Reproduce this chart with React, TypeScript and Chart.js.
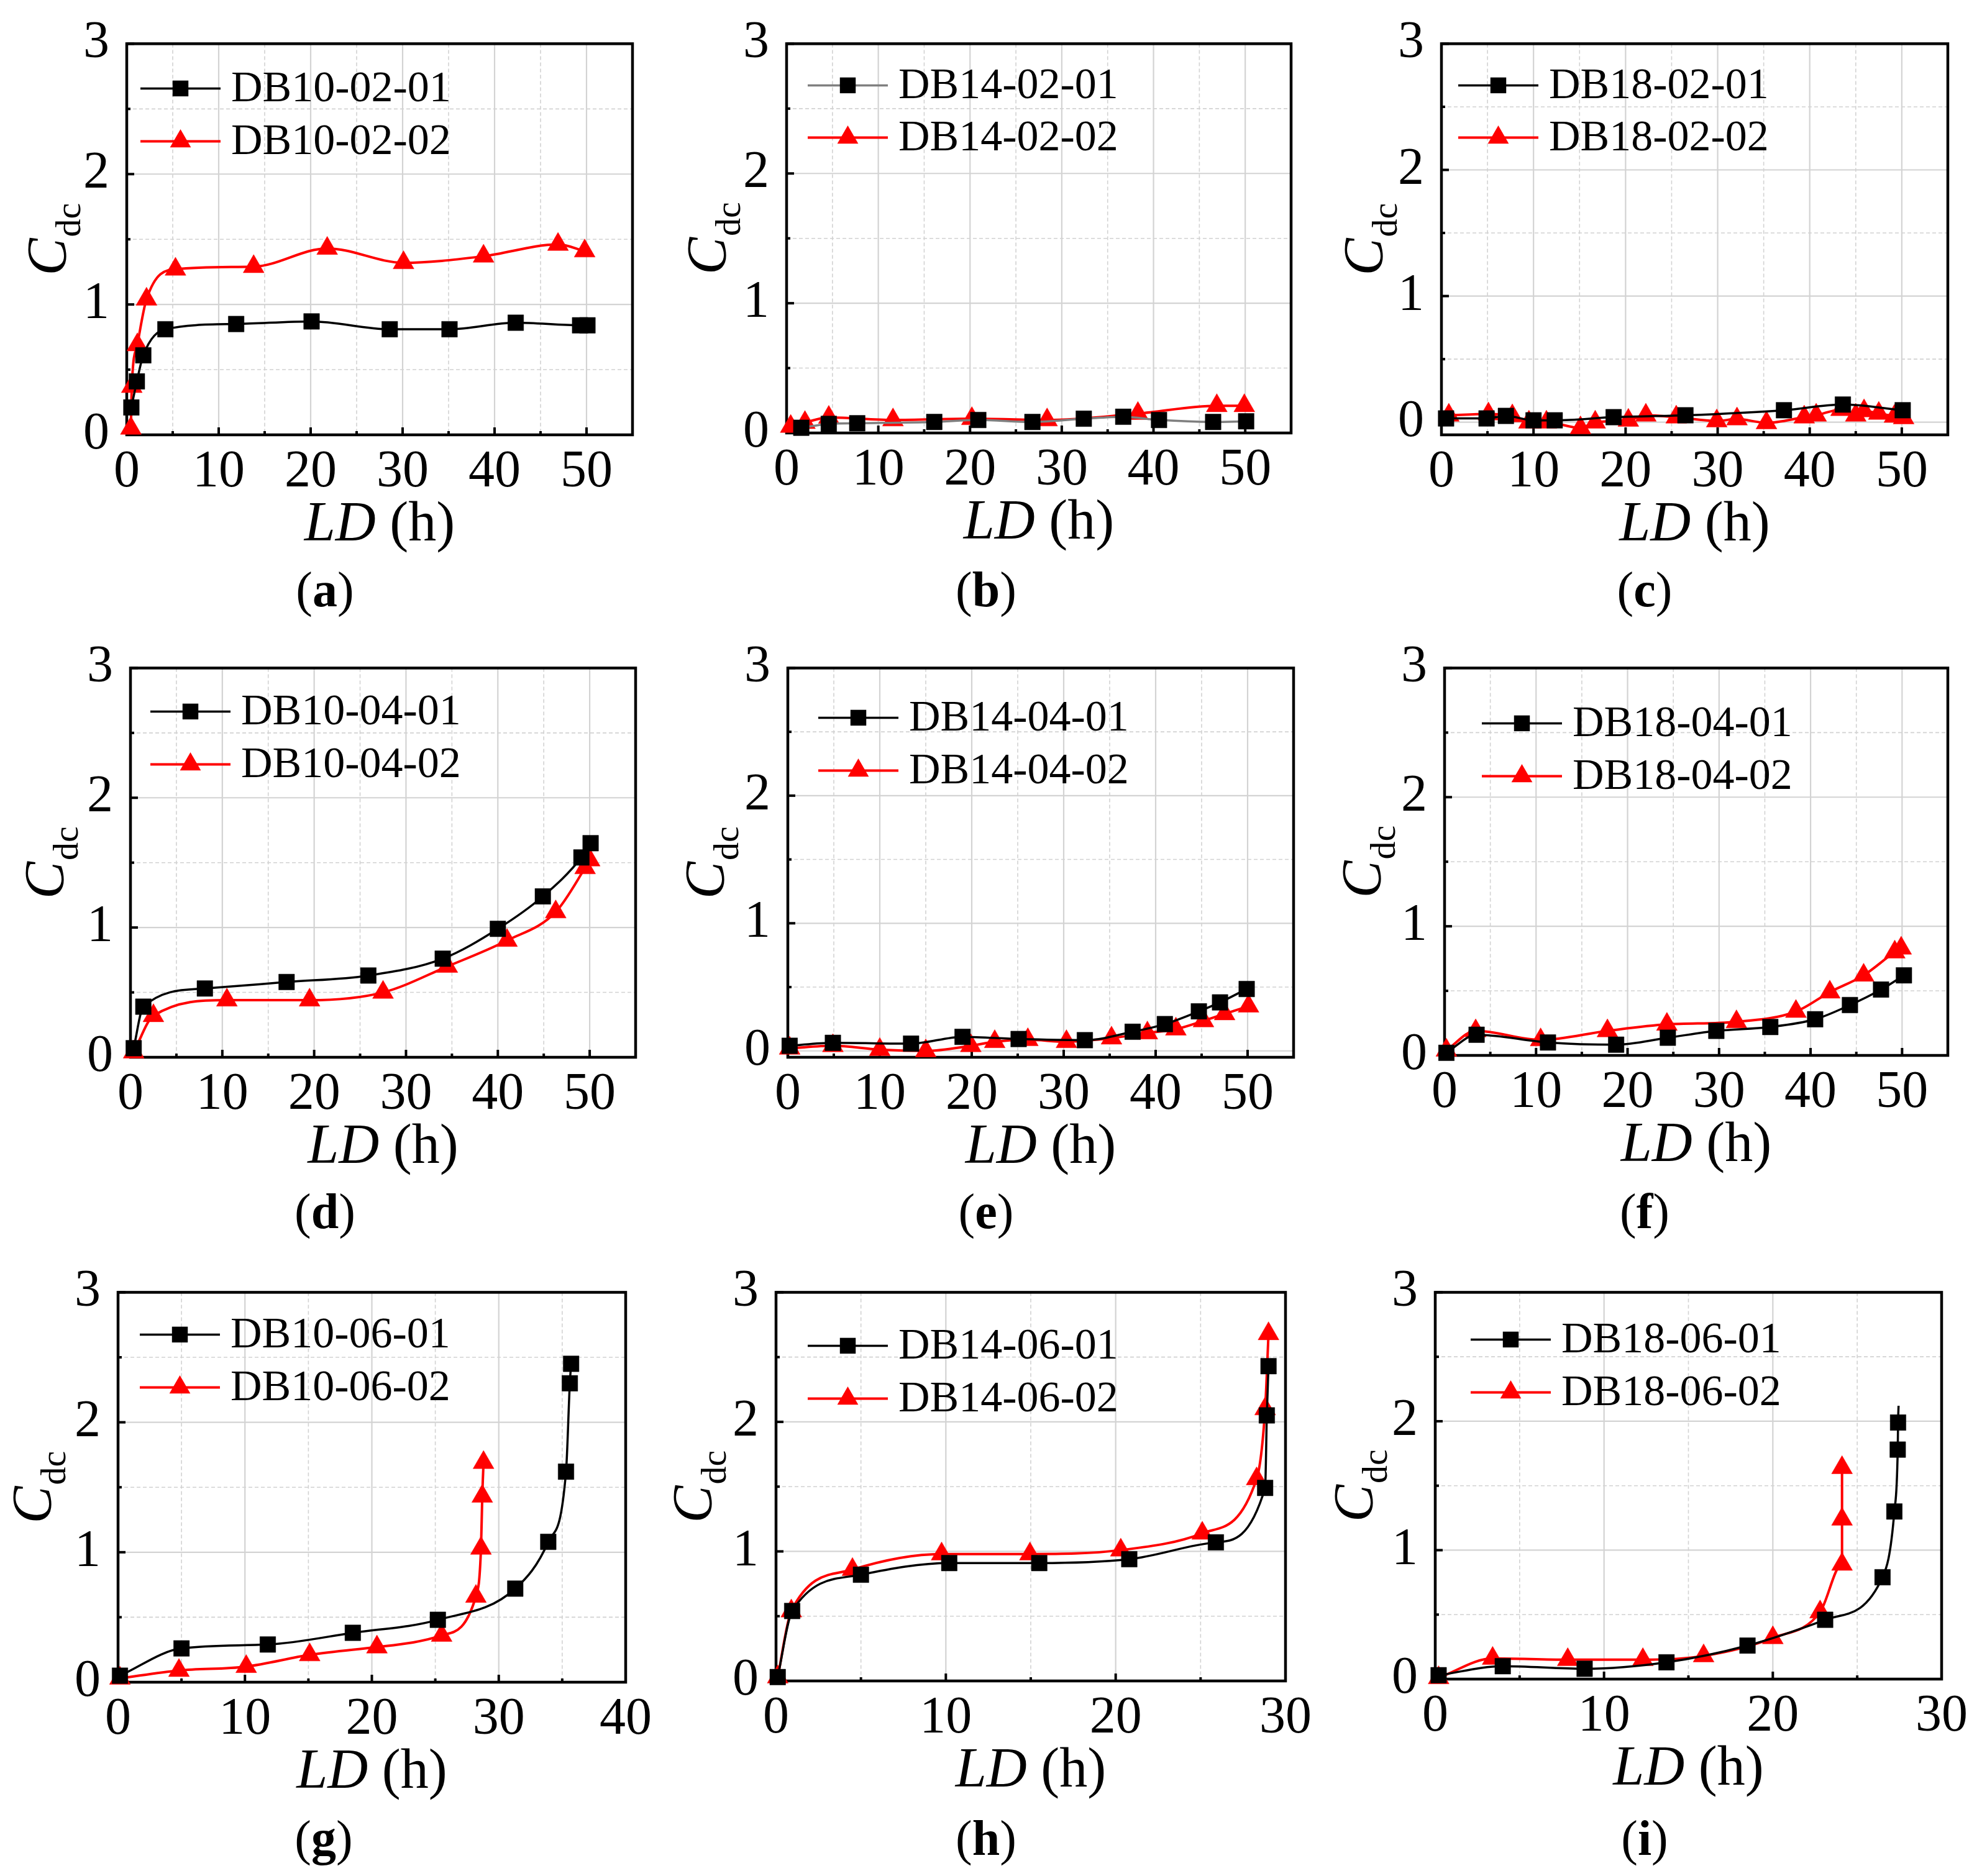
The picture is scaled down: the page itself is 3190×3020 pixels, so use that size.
import React, { useEffect, useRef } from 'react';
import { Chart, registerables } from 'chart.js';

Chart.register(...registerables);

// ---------------- DATA ----------------
// (a)
const a1X = [0.5, 1.1, 1.8, 4.2, 11.9, 20.1, 28.6, 35.1, 42.3, 49.3, 50.1];
const a1Y = [0.21, 0.41, 0.61, 0.81, 0.85, 0.87, 0.81, 0.81, 0.86, 0.84, 0.84];
const a2X = [0.45, 0.55, 1.15, 2.15, 5.3, 13.8, 21.8, 30.1, 38.8, 46.9, 49.8];
const a2Y = [0.05, 0.37, 0.69, 1.04, 1.27, 1.29, 1.43, 1.32, 1.37, 1.46, 1.41];
// (b)
const b1X = [1.6, 4.6, 7.7, 16.1, 20.9, 26.8, 32.4, 36.7, 40.6, 46.5, 50.1];
const b1Y = [0.04, 0.07, 0.075, 0.085, 0.1, 0.085, 0.11, 0.125, 0.1, 0.085, 0.09];
const b2X = [0.45, 2.0, 4.6, 11.6, 20.2, 28.4, 38.3, 46.9, 49.9];
const b2Y = [0.05, 0.08, 0.12, 0.1, 0.11, 0.1, 0.15, 0.21, 0.21];
// (c)
const c1X = [0.5, 4.9, 7.0, 10.0, 12.3, 18.7, 26.5, 37.2, 43.6, 50.1];
const c1Y = [0.03, 0.03, 0.05, 0.015, 0.015, 0.04, 0.055, 0.095, 0.14, 0.095];
const c2X = [0.8, 5.1, 7.7, 9.5, 11.4, 15.1, 16.7, 20.3, 22.2, 25.5, 29.9, 32.1, 35.3, 39.4, 40.7, 43.4, 45.0, 45.9, 47.5, 49.2, 50.2];
const c2Y = [0.055, 0.065, 0.05, 0.0, 0.0, -0.045, 0.0, 0.015, 0.055, 0.04, 0.01, 0.025, -0.005, 0.04, 0.055, 0.1, 0.055, 0.09, 0.07, 0.046, 0.034];
// (d)
const d1X = [0.35, 1.4, 8.1, 17.0, 25.9, 34.0, 40.0, 44.9, 49.1, 50.1];
const d1Y = [0.07, 0.39, 0.53, 0.58, 0.63, 0.76, 0.99, 1.24, 1.54, 1.65];
const d2X = [0.35, 2.5, 10.5, 19.5, 27.5, 34.5, 41.0, 46.3, 49.5, 50.0];
const d2Y = [0.04, 0.32, 0.44, 0.44, 0.5, 0.7, 0.9, 1.12, 1.46, 1.52];
// (e)
const e1X = [0.2, 4.9, 13.4, 19.0, 25.1, 32.3, 37.5, 41.0, 44.7, 47.0, 49.9];
const e1Y = [0.04, 0.063, 0.057, 0.11, 0.093, 0.084, 0.15, 0.21, 0.31, 0.38, 0.485];
const e2X = [0.2, 4.9, 10.0, 15.0, 19.9, 22.5, 26.1, 30.3, 35.2, 39.1, 42.2, 45.2, 47.5, 50.1];
const e2Y = [0.02, 0.04, 0.01, 0.0, 0.04, 0.072, 0.087, 0.072, 0.1, 0.14, 0.17, 0.235, 0.29, 0.35];
// (f)
const f1X = [0.2, 3.5, 11.3, 18.75, 24.4, 29.7, 35.6, 40.5, 44.3, 47.7, 50.2];
const f1Y = [0.02, 0.16, 0.1, 0.083, 0.137, 0.19, 0.22, 0.28, 0.39, 0.51, 0.62];
const f2X = [0.2, 3.4, 10.5, 17.8, 24.3, 31.9, 38.4, 42.1, 45.8, 49.2, 49.9];
const f2Y = [0.04, 0.19, 0.12, 0.19, 0.24, 0.26, 0.34, 0.49, 0.62, 0.8, 0.83];
// (g)
const g1X = [0.15, 5.0, 11.8, 18.5, 25.2, 31.3, 33.9, 35.3, 35.6, 35.7];
const g1Y = [0.05, 0.26, 0.29, 0.38, 0.48, 0.72, 1.08, 1.62, 2.3, 2.45];
const g2X = [0.15, 4.8, 10.1, 15.1, 20.4, 25.5, 28.2, 28.6, 28.7, 28.8];
const g2Y = [0.03, 0.09, 0.12, 0.21, 0.27, 0.36, 0.66, 1.03, 1.43, 1.69];
// (h)
const h1X = [0.1, 0.95, 5.0, 10.2, 15.5, 20.8, 25.9, 28.8, 28.9, 29.0];
const h1Y = [0.03, 0.54, 0.82, 0.91, 0.91, 0.94, 1.07, 1.49, 2.05, 2.43];
const h2X = [0.1, 0.9, 4.5, 9.75, 14.95, 20.3, 25.1, 28.3, 28.8, 29.0];
const h2Y = [0.03, 0.54, 0.86, 0.98, 0.98, 1.01, 1.14, 1.56, 2.1, 2.68];
// (i)
const i1X = [0.2, 4.0, 8.85, 13.7, 18.5, 23.1, 26.5, 27.2, 27.4, 27.42, 27.45];
const i1Y = [0.03, 0.1, 0.08, 0.13, 0.26, 0.46, 0.79, 1.3, 1.78, 1.99, 2.12];
const i2X = [0.2, 3.4, 7.85, 12.3, 15.9, 20.0, 22.8, 24.1, 24.1, 24.1];
const i2Y = [0.01, 0.16, 0.15, 0.15, 0.18, 0.32, 0.52, 0.89, 1.24, 1.64];

// Series names
const namesA = ['DB10-02-01', 'DB10-02-02'];
const namesB = ['DB14-02-01', 'DB14-02-02'];
const namesC = ['DB18-02-01', 'DB18-02-02'];
const namesD = ['DB10-04-01', 'DB10-04-02'];
const namesE = ['DB14-04-01', 'DB14-04-02'];
const namesF = ['DB18-04-01', 'DB18-04-02'];
const namesG = ['DB10-06-01', 'DB10-06-02'];
const namesH = ['DB14-06-01', 'DB14-06-02'];
const namesI = ['DB18-06-01', 'DB18-06-02'];

// Tick labels
const xTicks50 = [0, 10, 20, 30, 40, 50];
const xTicks40 = [0, 10, 20, 30, 40];
const xTicks30 = [0, 10, 20, 30];
const yTicks = [0, 1, 2, 3];
const panelLetters = ['a', 'b', 'c', 'd', 'e', 'f', 'g', 'h', 'i'];

// ---------------- STYLE / LAYOUT ----------------
const FONT = "'Liberation Serif', 'Times New Roman', serif";
const PAGE_W = 3190;
const PAGE_H = 3020;
const colX = [0, 1063, 2126];
const colW = 1064;
const rowY = [0, 1005, 2010];
const rowH = [1005, 1005, 1010];
const Y_AXIS_W = 100;
const X_AXIS_H = 100;
const SQ_R = 18;
const TRI_R = 19.5;

type Series = { name: string; xs: number[]; ys: number[]; kind: 'sq' | 'tri'; lineColor: string; lineW: number; hideLast?: boolean };
type PanelCfg = {
  col: number; row: number;
  rect: [number, number, number, number]; // L, T, R, B page coords
  xMax: number; xTicks: number[]; yMin: number;
  series: Series[];
  legend: [number, number, number]; // x offset, row1 y, row2 y
  yTitleOff: number;
  labelX: number; labelBase: number;
};

const mk = (names: string[], x1: number[], y1: number[], x2: number[], y2: number[], gray = false, hide = false): Series[] => [
  { name: names[0], xs: x1, ys: y1, kind: 'sq', lineColor: gray ? '#7f7f7f' : '#000000', lineW: 3.5, hideLast: hide },
  { name: names[1], xs: x2, ys: y2, kind: 'tri', lineColor: '#ff0000', lineW: 4 },
];

const panels: PanelCfg[] = [
  { col: 0, row: 0, rect: [204, 54, 1018, 700], xMax: 55, xTicks: xTicks50, yMin: 0, series: mk(namesA, a1X, a1Y, a2X, a2Y), legend: [22, 72, 157], yTitleOff: 98, labelX: 523, labelBase: 976 },
  { col: 1, row: 0, rect: [1266, 54, 2078, 697], xMax: 55, xTicks: xTicks50, yMin: 0, series: mk(namesB, b1X, b1Y, b2X, b2Y, true), legend: [34, 67, 151], yTitleOff: 98, labelX: 1587, labelBase: 976 },
  { col: 2, row: 0, rect: [2320, 54, 3135, 700], xMax: 55, xTicks: xTicks50, yMin: -0.1, series: mk(namesC, c1X, c1Y, c2X, c2Y), legend: [27, 67, 151], yTitleOff: 95, labelX: 2647, labelBase: 976 },
  { col: 0, row: 1, rect: [210, 1054, 1023, 1702], xMax: 55, xTicks: xTicks50, yMin: 0, series: mk(namesD, d1X, d1Y, d2X, d2Y), legend: [32, 70, 155], yTitleOff: 108, labelX: 523, labelBase: 1977 },
  { col: 1, row: 1, rect: [1268, 1054, 2082, 1702], xMax: 55, xTicks: xTicks50, yMin: -0.05, series: mk(namesE, e1X, e1Y, e2X, e2Y), legend: [49, 80, 165], yTitleOff: 103, labelX: 1587, labelBase: 1977 },
  { col: 2, row: 1, rect: [2325, 1054, 3135, 1699], xMax: 55, xTicks: xTicks50, yMin: 0, series: mk(namesF, f1X, f1Y, f2X, f2Y), legend: [60, 89, 174], yTitleOff: 103, labelX: 2647, labelBase: 1977 },
  { col: 0, row: 2, rect: [190, 2056, 1007, 2708], xMax: 40, xTicks: xTicks40, yMin: 0, series: mk(namesG, g1X, g1Y, g2X, g2Y), legend: [35, 68, 153], yTitleOff: 108, labelX: 521, labelBase: 2986 },
  { col: 1, row: 2, rect: [1249, 2056, 2069, 2706], xMax: 30, xTicks: xTicks30, yMin: 0, series: mk(namesH, h1X, h1Y, h2X, h2Y), legend: [51, 86, 171], yTitleOff: 104, labelX: 1587, labelBase: 2986 },
  { col: 2, row: 2, rect: [2310, 2056, 3125, 2703], xMax: 30, xTicks: xTicks30, yMin: 0, series: mk(namesI, i1X, i1Y, i2X, i2Y, false, true), legend: [57, 76, 161], yTitleOff: 101, labelX: 2647, labelBase: 2986 },
];

function markerPath(ctx: CanvasRenderingContext2D, kind: string, x: number, y: number) {
  ctx.beginPath();
  if (kind === 'sq') {
    const s = SQ_R * Math.SQRT1_2;
    ctx.rect(x - s, y - s, 2 * s, 2 * s);
  } else {
    const r = TRI_R;
    const w = r * Math.sin((2 * Math.PI) / 3);
    ctx.moveTo(x, y - r);
    ctx.lineTo(x + w, y + r / 2);
    ctx.lineTo(x - w, y + r / 2);
    ctx.closePath();
  }
}

const decorPlugin = {
  id: 'decor',
  beforeDatasetsDraw(chart: any, _args: any, opts: any) {
    const { ctx, chartArea: ca } = chart;
    const xs = chart.scales.x;
    const ys = chart.scales.y;
    const xMajor: number[] = opts.xTicks;
    const xMinor: number[] = xMajor.map((t: number) => t + 5).filter((v: number) => v < xs.max);
    const yMinor: number[] = yTicks.map((t) => t + 0.5).filter((v) => v < ys.max);
    ctx.save();
    // minor grid (dashed)
    ctx.strokeStyle = '#d2d2d2';
    ctx.lineWidth = 1.6;
    ctx.setLineDash([6, 4]);
    for (const v of xMinor) {
      const px = xs.getPixelForValue(v);
      ctx.beginPath(); ctx.moveTo(px, ca.top); ctx.lineTo(px, ca.bottom); ctx.stroke();
    }
    for (const v of yMinor) {
      const py = ys.getPixelForValue(v);
      ctx.beginPath(); ctx.moveTo(ca.left, py); ctx.lineTo(ca.right, py); ctx.stroke();
    }
    // major grid (solid)
    ctx.setLineDash([]);
    ctx.strokeStyle = '#d3d3d3';
    ctx.lineWidth = 2.2;
    for (const v of xMajor) {
      if (v <= xs.min || v >= xs.max) continue;
      const px = xs.getPixelForValue(v);
      ctx.beginPath(); ctx.moveTo(px, ca.top); ctx.lineTo(px, ca.bottom); ctx.stroke();
    }
    for (const v of yTicks) {
      if (v <= ys.min || v >= ys.max) continue;
      const py = ys.getPixelForValue(v);
      ctx.beginPath(); ctx.moveTo(ca.left, py); ctx.lineTo(ca.right, py); ctx.stroke();
    }
    // frame
    ctx.strokeStyle = '#000';
    ctx.lineWidth = 4.5;
    ctx.strokeRect(ca.left, ca.top, ca.right - ca.left, ca.bottom - ca.top);
    // inward ticks on bottom and left axes
    ctx.lineWidth = 4;
    const tick = (x1: number, y1: number, x2: number, y2: number) => {
      ctx.beginPath(); ctx.moveTo(x1, y1); ctx.lineTo(x2, y2); ctx.stroke();
    };
    for (const v of xMajor) {
      const px = xs.getPixelForValue(v);
      tick(px, ca.bottom, px, ca.bottom - 12);
    }
    for (const v of xMinor) {
      const px = xs.getPixelForValue(v);
      tick(px, ca.bottom, px, ca.bottom - 6);
    }
    for (const v of yTicks) {
      const py = ys.getPixelForValue(v);
      tick(ca.left, py, ca.left + 12, py);
    }
    for (const v of yMinor) {
      const py = ys.getPixelForValue(v);
      tick(ca.left, py, ca.left + 6, py);
    }
    ctx.restore();
  },
  afterDraw(chart: any, _args: any, opts: any) {
    const { ctx, chartArea: ca } = chart;
    ctx.save();
    // legend
    const [lx, r1, r2] = opts.legend;
    const rows = [r1, r2];
    chart.data.datasets.forEach((ds: any, i: number) => {
      const y = ca.top + rows[i];
      const x0 = ca.left + lx;
      const x1 = x0 + 129;
      ctx.strokeStyle = ds.borderColor;
      ctx.lineWidth = ds.borderWidth;
      ctx.setLineDash([]);
      ctx.beginPath(); ctx.moveTo(x0, y); ctx.lineTo(x1, y); ctx.stroke();
      markerPath(ctx, opts.kinds[i], (x0 + x1) / 2, y);
      ctx.fillStyle = ds.pointBackgroundColor;
      ctx.fill();
      ctx.fillStyle = '#000';
      ctx.font = `70px ${FONT}`;
      ctx.textAlign = 'left';
      ctx.textBaseline = 'middle';
      ctx.fillText(ds.label, x1 + 17, y + 2);
    });
    // y title: C_dc
    ctx.fillStyle = '#000';
    ctx.textBaseline = 'alphabetic';
    ctx.textAlign = 'left';
    ctx.save();
    ctx.translate(ca.left - opts.yTitleOff, (ca.top + ca.bottom) / 2);
    ctx.rotate(-Math.PI / 2);
    ctx.font = `italic 90px ${FONT}`;
    const wC = ctx.measureText('C').width;
    ctx.font = `58px ${FONT}`;
    const wS = ctx.measureText('dc').width;
    const tot = wC + wS + 2;
    ctx.font = `italic 90px ${FONT}`;
    ctx.fillText('C', -tot / 2, 0);
    ctx.font = `58px ${FONT}`;
    ctx.fillText('dc', -tot / 2 + wC + 2, 23);
    ctx.restore();
    // x title: LD (h)
    ctx.font = `italic 90px ${FONT}`;
    const wLD = ctx.measureText('LD').width;
    ctx.font = `90px ${FONT}`;
    const wH = ctx.measureText(' (h)').width;
    const cx = (ca.left + ca.right) / 2;
    const base = ca.bottom + 170;
    ctx.font = `italic 90px ${FONT}`;
    ctx.fillText('LD', cx - (wLD + wH) / 2, base);
    ctx.font = `90px ${FONT}`;
    ctx.fillText(' (h)', cx - (wLD + wH) / 2 + wLD, base);
    // panel label (x)
    ctx.font = `80px ${FONT}`;
    const wP = ctx.measureText('(').width;
    const wP2 = ctx.measureText(')').width;
    ctx.font = `bold 80px ${FONT}`;
    const wL = ctx.measureText(opts.letter).width;
    const lx0 = opts.labelX - (wP + wL + wP2) / 2;
    ctx.font = `80px ${FONT}`;
    ctx.fillText('(', lx0, opts.labelBase);
    ctx.font = `bold 80px ${FONT}`;
    ctx.fillText(opts.letter, lx0 + wP, opts.labelBase);
    ctx.font = `80px ${FONT}`;
    ctx.fillText(')', lx0 + wP + wL, opts.labelBase);
    ctx.restore();
  },
};

function Panel({ cfg, letter }: { cfg: PanelCfg; letter: string }) {
  const ref = useRef<HTMLCanvasElement | null>(null);
  const cellX = colX[cfg.col];
  const cellY = rowY[cfg.row];
  const cellH = rowH[cfg.row];
  const [L, T, R, B] = cfg.rect;
  useEffect(() => {
    if (!ref.current) return;
    const datasets = cfg.series.map((s) => {
      const isRed = s.kind === 'tri';
      const fill = isRed ? '#ff0000' : '#000000';
      const r = isRed ? TRI_R : SQ_R;
      return {
        label: s.name,
        data: s.xs.map((x, i) => ({ x, y: s.ys[i] })),
        showLine: true,
        borderColor: s.lineColor,
        borderWidth: s.lineW,
        backgroundColor: fill,
        pointBackgroundColor: fill,
        pointBorderColor: fill,
        pointBorderWidth: 0.5,
        pointStyle: isRed ? 'triangle' : 'rect',
        pointRadius: (c: any) => (s.hideLast && c.dataIndex === s.xs.length - 1 ? 0 : r),
        cubicInterpolationMode: 'monotone',
        tension: 0.4,
        clip: false,
        order: isRed ? 1 : 0,
      };
    });
    const chart = new Chart(ref.current, {
      type: 'scatter',
      data: { datasets } as any,
      plugins: [decorPlugin as any],
      options: {
        animation: false,
        responsive: false,
        maintainAspectRatio: false,
        devicePixelRatio: 1,
        events: [],
        layout: {
          padding: {
            left: L - cellX - Y_AXIS_W,
            top: T - cellY,
            right: cellX + colW - R,
            bottom: cellY + cellH - B - X_AXIS_H,
          },
        },
        scales: {
          x: {
            type: 'linear',
            min: 0,
            max: cfg.xMax,
            afterBuildTicks: (s: any) => { s.ticks = cfg.xTicks.map((v) => ({ value: v })); },
            afterFit: (s: any) => { s.height = X_AXIS_H; },
            grid: { display: false },
            border: { display: false },
            ticks: {
              font: { family: FONT, size: 84 },
              color: '#000',
              padding: 3,
              maxRotation: 0,
              autoSkip: false,
              callback: (v: any) => String(v),
            },
          },
          y: {
            type: 'linear',
            min: cfg.yMin,
            max: 3,
            afterBuildTicks: (s: any) => { s.ticks = yTicks.map((v) => ({ value: v })); },
            afterFit: (s: any) => { s.width = Y_AXIS_W; },
            grid: { display: false },
            border: { display: false },
            ticks: {
              font: { family: FONT, size: 84 },
              color: '#000',
              padding: 20,
              autoSkip: false,
              callback: (v: any) => String(v),
            },
          },
        },
        plugins: {
          legend: { display: false },
          tooltip: { enabled: false },
          decor: {
            xTicks: cfg.xTicks,
            legend: cfg.legend,
            kinds: cfg.series.map((s) => s.kind),
            yTitleOff: cfg.yTitleOff,
            letter,
            labelX: cfg.labelX - cellX,
            labelBase: cfg.labelBase - cellY,
          },
        } as any,
      },
    } as any);
    return () => chart.destroy();
  }, [cfg, letter]);
  return (
    <canvas
      ref={ref}
      width={colW}
      height={cellH}
      style={{ position: 'absolute', left: cellX, top: cellY, width: colW, height: cellH }}
    />
  );
}

export default function App() {
  return (
    <div style={{ position: 'absolute', left: 0, top: 0, width: PAGE_W, height: PAGE_H, background: '#ffffff', overflow: 'hidden' }}>
      {panels.map((p, i) => (
        <Panel key={i} cfg={p} letter={panelLetters[i]} />
      ))}
    </div>
  );
}
